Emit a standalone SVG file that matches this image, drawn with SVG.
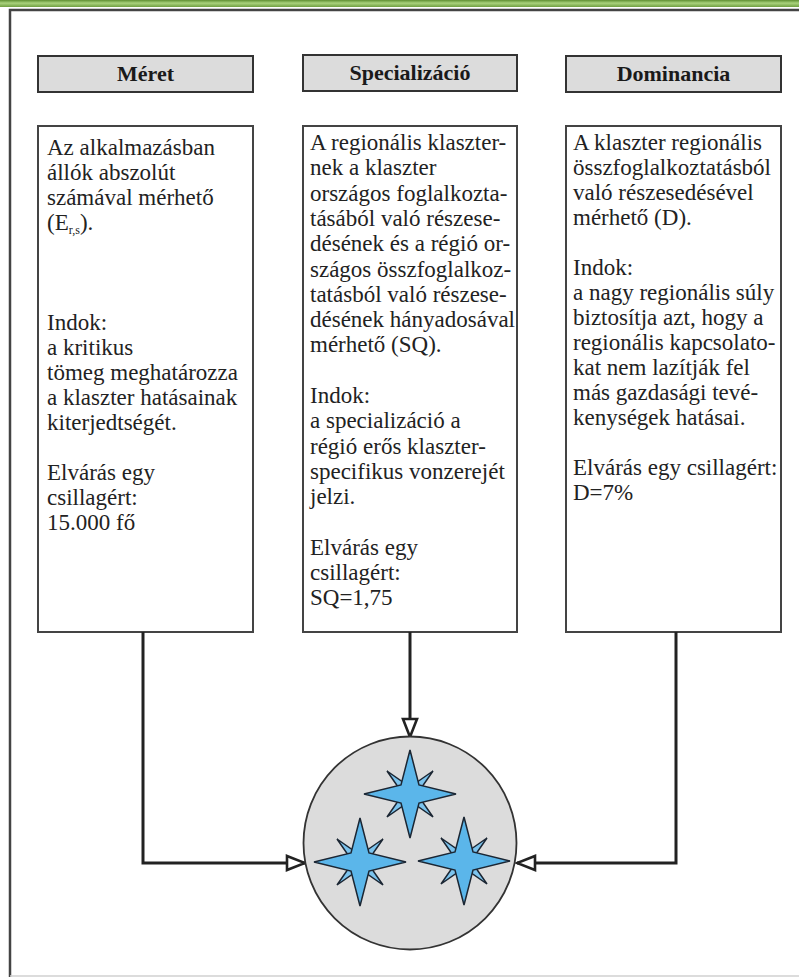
<svg xmlns="http://www.w3.org/2000/svg" width="799" height="978" viewBox="0 0 799 978">
<style>
.hdr{fill:#dcdcdc;stroke:#333;stroke-width:2}
.box{fill:#fff;stroke:#444;stroke-width:2}
.ht{font-family:"Liberation Serif","Times New Roman",serif;font-weight:bold;font-size:22px;fill:#1a1a1a;text-anchor:middle}
.bt{font-family:"Liberation Serif","Times New Roman",serif;font-size:23px;fill:#222}
.sub{font-size:12px}
.con{fill:none;stroke:#222;stroke-width:3}
.star{fill:#5bb6ea;stroke:#1b2633;stroke-width:1.5;stroke-linejoin:miter}
.star2{fill:#7cc4ee;stroke:#1b2633;stroke-width:1.5}
</style>
<defs>
<linearGradient id="g" x1="0" y1="0" x2="0" y2="1">
<stop offset="0" stop-color="#5f8f32"/>
<stop offset="0.45" stop-color="#a9d27c"/>
<stop offset="1" stop-color="#6f9f40"/>
</linearGradient>
<marker id="arr" viewBox="0 0 22 18" refX="20" refY="9" markerWidth="22" markerHeight="18" markerUnits="userSpaceOnUse" orient="auto">
<path d="M2,2 L20,9 L2,16 Z" fill="#fff" stroke="#222" stroke-width="2.6" stroke-linejoin="miter"/>
</marker>
<g id="starShape">
<path class="star2" d="M0,-7 L23,-23 L7,0 L23,23 L0,7 L-23,23 L-7,0 L-23,-23 Z"/>
<path class="star" d="M0,-44 L9,-9 L46,0 L9,9 L0,44 L-9,9 L-46,0 L-9,-9 Z"/>
</g>
</defs>
<rect x="0" y="0" width="799" height="7" fill="url(#g)"/>
<path d="M10,977 V10 H799" fill="none" stroke="#444" stroke-width="2.5"/>
<line x1="10" y1="976" x2="799" y2="976" stroke="#d0d0d0" stroke-width="1.5"/>

<g id="meret-header"><rect class="hdr" x="38" y="56" width="215" height="36"/><text class="ht" x="145.5" y="81">Méret</text></g>
<g id="specializacio-header"><rect class="hdr" x="303" y="55" width="214" height="36"/><text class="ht" x="410" y="80">Specializáció</text></g>
<g id="dominancia-header"><rect class="hdr" x="566" y="56" width="215" height="36"/><text class="ht" x="673.5" y="81">Dominancia</text></g>

<g id="meret-box"><rect class="box" x="38" y="126" width="215" height="506"/>
<text class="bt"><tspan x="47" y="155">Az alkalmazásban</tspan><tspan x="47" y="180">állók abszolút</tspan><tspan x="47" y="205">számával mérhető</tspan><tspan x="47" y="230">(E</tspan><tspan class="sub" dy="4">r,s</tspan><tspan dy="-4">).</tspan><tspan x="47" y="330">Indok:</tspan><tspan x="47" y="355">a kritikus</tspan><tspan x="47" y="380">tömeg meghatározza</tspan><tspan x="47" y="405">a klaszter hatásainak</tspan><tspan x="47" y="430">kiterjedtségét.</tspan><tspan x="47" y="480">Elvárás egy</tspan><tspan x="47" y="505">csillagért:</tspan><tspan x="47" y="530">15.000 fő</tspan></text></g>

<g id="specializacio-box"><rect class="box" x="303" y="126" width="214" height="506"/>
<text class="bt"><tspan x="310" y="150">A regionális klaszter-</tspan><tspan x="310" y="175.3">nek a klaszter</tspan><tspan x="310" y="200.6">országos foglalkozta-</tspan><tspan x="310" y="225.9">tásából való részese-</tspan><tspan x="310" y="251.2">désének és a régió or-</tspan><tspan x="310" y="276.5">szágos összfoglalkoz-</tspan><tspan x="310" y="301.8">tatásból való részese-</tspan><tspan x="310" y="327.1">désének hányadosával</tspan><tspan x="310" y="352.4">mérhető (SQ).</tspan><tspan x="310" y="403">Indok:</tspan><tspan x="310" y="428.3">a specializáció a</tspan><tspan x="310" y="453.6">régió erős klaszter-</tspan><tspan x="310" y="478.9">specifikus vonzerejét</tspan><tspan x="310" y="504.2">jelzi.</tspan><tspan x="310" y="554.8">Elvárás egy</tspan><tspan x="310" y="580.1">csillagért:</tspan><tspan x="310" y="605.4">SQ=1,75</tspan></text></g>

<g id="dominancia-box"><rect class="box" x="566" y="126" width="215" height="506"/>
<text class="bt"><tspan x="573" y="150">A klaszter regionális</tspan><tspan x="573" y="175">összfoglalkoztatásból</tspan><tspan x="573" y="200">való részesedésével</tspan><tspan x="573" y="225">mérhető (D).</tspan><tspan x="573" y="275">Indok:</tspan><tspan x="573" y="300">a nagy regionális súly</tspan><tspan x="573" y="325">biztosítja azt, hogy a</tspan><tspan x="573" y="350">regionális kapcsolato-</tspan><tspan x="573" y="375">kat nem lazítják fel</tspan><tspan x="573" y="400">más gazdasági tevé-</tspan><tspan x="573" y="425">kenységek hatásai.</tspan><tspan x="573" y="475">Elvárás egy csillagért:</tspan><tspan x="573" y="500">D=7%</tspan></text></g>

<g id="connectors">
<path class="con" d="M143,632 V863 H305" marker-end="url(#arr)"/>
<path class="con" d="M410,632 V737" marker-end="url(#arr)"/>
<path class="con" d="M676,632 V863 H517" marker-end="url(#arr)"/>
</g>

<g id="star-circle">
<circle cx="410" cy="843" r="106.5" fill="#dcdcdc" stroke="#333" stroke-width="1.8"/>
<use href="#starShape" x="410" y="794"/>
<use href="#starShape" x="360" y="862"/>
<use href="#starShape" x="464" y="861"/>
</g>
</svg>
